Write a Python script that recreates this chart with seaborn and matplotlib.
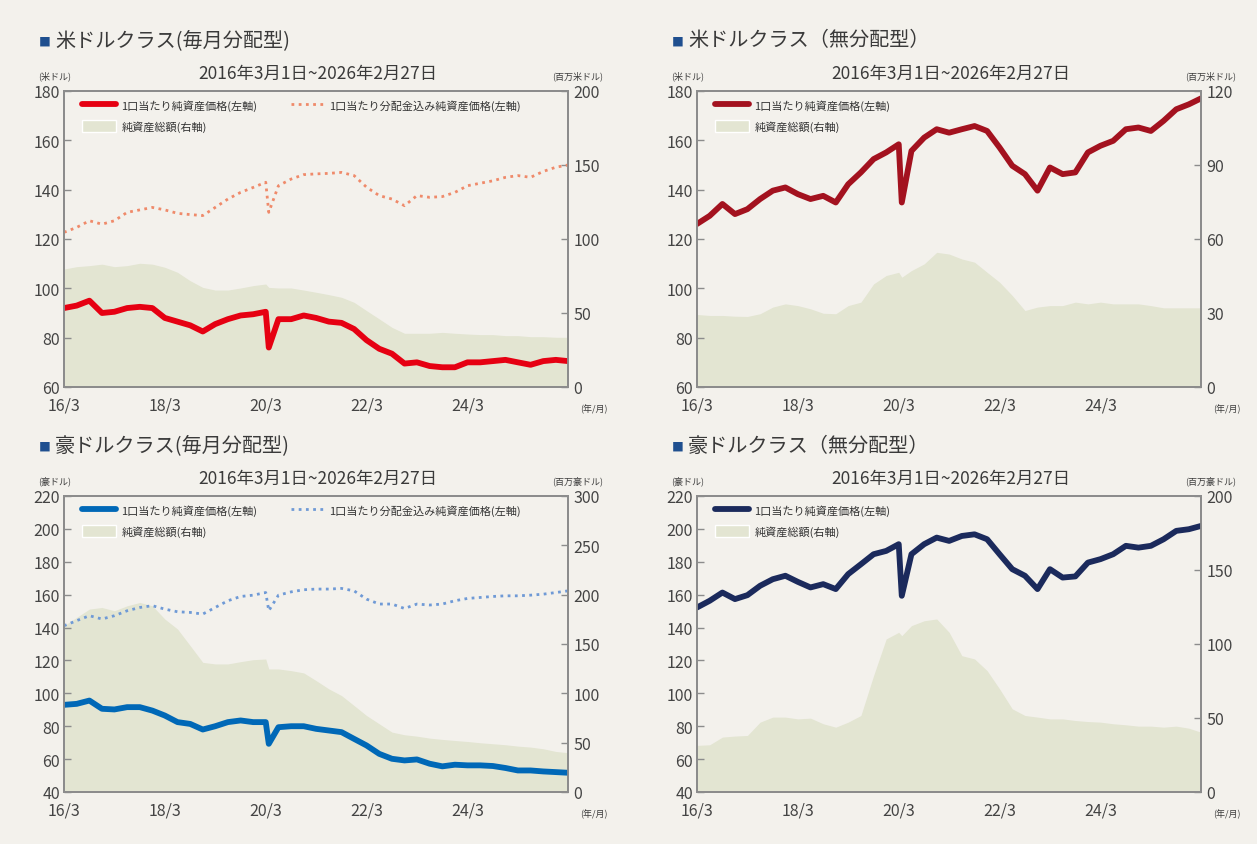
import pandas as pd
import numpy as np
import matplotlib
matplotlib.use("Agg")
import matplotlib.pyplot as plt
from matplotlib.patches import Patch
from matplotlib.lines import Line2D
import seaborn as sns

sns.set_theme(style="white")
plt.rcParams['font.family'] = ['Noto Sans CJK JP', 'DejaVu Sans']

# quarterly points, plus the March 2020 low and the last day
dates = list(pd.date_range("2016-03-01", "2025-12-01", freq="QS-MAR"))
dates.insert(17, pd.Timestamp("2020-03-23"))
dates.append(pd.Timestamp("2026-02-27"))

# 米ドルクラス(毎月分配型)
usd_m_nav = [92, 93, 95, 90, 90.5, 92, 92.5, 92, 88, 86.5, 85, 82.5, 85.5, 87.5, 89,
             89.5, 90.5, 76, 87.5, 87.5, 89, 88, 86.5, 86, 83.5, 79, 75.5, 73.5, 69.5,
             70, 68.5, 68, 68, 70, 70, 70.5, 71, 70, 69, 70.5, 71, 70.5]
usd_m_total = [122.7, 124.7, 127.4, 126, 127.4, 130.8, 131.8, 132.8, 131.8, 130.4, 129.9,
               129.5, 132.8, 136.2, 138.9, 140.9, 143, 130.8, 141.6, 144.3, 146.1, 146.4,
               146.6, 147, 145.7, 141, 137.6, 136.2, 133.5, 137.6, 136.9, 137.2, 138.9,
               141.6, 142.6, 143.6, 145, 145.7, 145, 147.4, 149.1, 150]
usd_m_aum = [79.7, 81.3, 82, 83, 81.3, 82, 83.6, 83, 80.9, 77.5, 71.8, 67.3, 65.5, 65.5,
             66.9, 68.5, 69.6, 67.3, 66.9, 66.9, 65.5, 64, 62.4, 60.6, 57.2, 51.6, 46,
             40.3, 36.3, 36.3, 36.3, 36.9, 36.3, 35.8, 35.4, 35.4, 34.7, 34.7, 34, 34,
             33.6, 33.6]

# 米ドルクラス(無分配型)
usd_a_nav = [126.1, 129.4, 134.2, 130.1, 132.1, 136.2, 139.6, 140.9, 138.2, 136.2, 137.5,
             134.8, 142.2, 147, 152.4, 155.1, 158.4, 134.8, 155.7, 161.1, 164.5, 163.1,
             164.5, 165.8, 163.8, 157.1, 149.7, 146.3, 139.6, 149, 146.3, 147, 155.1,
             157.8, 159.8, 164.5, 165.2, 163.8, 167.9, 172.6, 174.6, 177]
usd_a_aum = [29.4, 29, 29, 28.7, 28.6, 29.7, 32.4, 33.7, 33, 31.7, 29.9, 29.7, 33, 34.4,
             41.8, 45.2, 46.5, 44.5, 47.2, 49.9, 54.6, 53.9, 51.9, 50.6, 46.5, 42.5, 37.1,
             31, 32.4, 33, 33, 34.4, 33.7, 34.4, 33.7, 33.7, 33.7, 33, 32.1, 32.1, 32.1, 32.1]

# 豪ドルクラス(毎月分配型)
aud_m_nav = [93, 93.6, 95.6, 90.6, 90.2, 91.6, 91.6, 89.5, 86.5, 82.5, 81.4, 78, 80, 82.5,
             83.5, 82.5, 82.5, 69.3, 79.4, 80, 80, 78.4, 77.4, 76.4, 72.3, 68.3, 63.2,
             60.2, 59.2, 59.8, 57.2, 55.6, 56.6, 56.2, 56.2, 55.8, 54.6, 53.1, 53.1, 52.5,
             52.1, 51.7]
aud_m_total = [141.1, 144.2, 147.2, 145.2, 147.2, 150.2, 152.2, 153.3, 151.2, 149.6, 149.2,
               148.2, 152.2, 156.3, 158.9, 159.7, 161.3, 150.2, 159.7, 161.7, 163, 163.4,
               163.4, 163.8, 162.3, 157.3, 154.3, 154.3, 151.6, 154.3, 153.7, 154.3, 156.3,
               157.7, 158.3, 158.9, 159.3, 159.3, 159.7, 160.3, 161.3, 162.3]
aud_m_aum = [168.5, 177, 185.4, 187, 183.7, 188.7, 192.1, 188.7, 175.3, 165.2, 148.3, 131.4,
             129.8, 129.8, 132.1, 134.1, 134.8, 124.7, 124.7, 123, 120.7, 112.9, 104.5,
             97.7, 87.6, 77.5, 69.1, 60.7, 58, 56.6, 54.6, 53.3, 52.2, 51.2, 49.9, 48.9,
             47.9, 46.5, 45.5, 43.8, 41.1, 39.8]

# 豪ドルクラス(無分配型)
aud_a_nav = [152.2, 156.3, 161.3, 157.3, 159.7, 165.4, 169.4, 171.5, 167.8, 164.4, 166.4,
             163.4, 172.5, 178.5, 184.6, 186.6, 190.7, 159.3, 184.6, 190.7, 194.7, 192.7,
             195.7, 196.7, 193.7, 184.6, 175.5, 171.5, 163.4, 175.5, 170.4, 171.1, 179.5,
             181.6, 184.6, 189.7, 188.6, 189.7, 193.7, 198.8, 199.8, 201.8]
aud_a_aum = [31.5, 31.9, 37.1, 37.8, 38.2, 47.2, 50.6, 50.6, 49.4, 49.9, 46.1, 43.8, 47.2,
             51.7, 78.7, 103.4, 107.9, 105.6, 112.4, 115.7, 116.9, 107.9, 92.1, 89.9, 82,
             69.7, 56.2, 51.7, 50.6, 49.4, 49.4, 48.3, 47.6, 47.2, 46.1, 45.4, 44.5, 44.5,
             43.8, 44.5, 43.1, 40.4]

tick_dates = ["2016-03-01", "2018-03-01", "2020-03-01", "2022-03-01", "2024-03-01"]
tick_labels = ["16/3", "18/3", "20/3", "22/3", "24/3"]
period = "2016年3月1日~2026年2月27日"
lab_nav = "1口当たり純資産価格(左軸)"
lab_total = "1口当たり分配金込み純資産価格(左軸)"
lab_aum = "純資産総額(右軸)"

W, H = 1257, 845
AREA = "#e3e5d2"
SPINE = "#8c8c8c"
TXT = "#3a3a3a"
SQ = "#1f4f8f"

fig = plt.figure(figsize=(W / 100, H / 100), dpi=100, facecolor="#f3f1ec")


def px(x, y):
    return x / W, 1 - y / H


def panel(x0, y0, title, unit_l, unit_r, nav, nav_color, aum, ylim_l, yt_l, ylim_r, yt_r,
          total=None, total_color=None):
    w, h = 504, 296
    ax = fig.add_axes([x0 / W, 1 - (y0 + h) / H, w / W, h / H])
    ax2 = ax.twinx()
    ax.set_zorder(ax2.get_zorder() + 1)
    ax.patch.set_visible(False)
    ax2.patch.set_facecolor("white")

    ax2.fill_between(dates, aum, 0, color=AREA, lw=0)
    sns.lineplot(x=dates, y=nav, ax=ax, color=nav_color, lw=4.2)
    handles = [Line2D([], [], color=nav_color, lw=4.2), Patch(facecolor=AREA)]
    labels = [lab_nav, lab_aum]
    ncol = 1
    if total is not None:
        sns.lineplot(x=dates, y=total, ax=ax, color=total_color, lw=2, linestyle=(0, (1, 1.6)))
        handles.append(Line2D([], [], color=total_color, lw=2, linestyle=(0, (1, 1.6))))
        labels.append(lab_total)
        ncol = 2

    ax.set_xlim(dates[0], dates[-1])
    ax.set_ylim(*ylim_l)
    ax.set_yticks(yt_l)
    ax2.set_ylim(*ylim_r)
    ax2.set_yticks(yt_r)
    ax.set_xticks(pd.to_datetime(tick_dates))
    ax.set_xticklabels(tick_labels)
    ax.set_xlabel("")
    ax.set_ylabel("")
    for a in (ax, ax2):
        for s in a.spines.values():
            s.set_color(SPINE)
            s.set_linewidth(1.3)
        a.tick_params(direction="in", length=5, width=1, color=SPINE, labelsize=11.5,
                      labelcolor="#444444")
    ax.tick_params(axis="x", pad=7)
    ax.tick_params(axis="y", pad=3)
    ax2.tick_params(axis="y", pad=4)

    ax.legend(handles, labels, loc="upper left", bbox_to_anchor=(0.02, 1.0), frameon=False,
              fontsize=8, ncol=ncol, handlelength=3.0, handleheight=1.3, columnspacing=3.0,
              labelspacing=0.75, borderaxespad=0.35, handletextpad=0.5,
              labelcolor="#333333")

    # texts around the panel
    fig.text(*px(x0 - 25, y0 - 50), "■", color=SQ, fontsize=8.5, va="center")
    fig.text(*px(x0 - 9, y0 - 51), title, color=TXT, fontsize=14.5, va="center")
    fig.text(*px(x0 + w / 2 + 2, y0 - 18), period, color=TXT, fontsize=12.5,
             ha="center", va="center")
    fig.text(*px(x0 - 9, y0 - 16), unit_l, color=TXT, fontsize=6.5, ha="center", va="center")
    fig.text(*px(x0 + w + 10, y0 - 16), unit_r, color=TXT, fontsize=6.5, ha="center",
             va="center")
    fig.text(*px(x0 + w + 26, y0 + h + 21), "(年/月)", color=TXT, fontsize=6.5,
             ha="center", va="center")
    return ax


panel(64, 92, "米ドルクラス(毎月分配型)", "(米ドル)", "(百万米ドル)",
      usd_m_nav, "#e60012", usd_m_aum, (60, 180), range(60, 181, 20), (0, 200),
      range(0, 201, 50), total=usd_m_total, total_color="#ef8a6a")
panel(697, 92, "米ドルクラス（無分配型）", "(米ドル)", "(百万米ドル)",
      usd_a_nav, "#a3121f", usd_a_aum, (60, 180), range(60, 181, 20), (0, 120),
      range(0, 121, 30))
panel(64, 497, "豪ドルクラス(毎月分配型)", "(豪ドル)", "(百万豪ドル)",
      aud_m_nav, "#0068b7", aud_m_aum, (40, 220), range(40, 221, 20), (0, 300),
      range(0, 301, 50), total=aud_m_total, total_color="#6f9ad6")
panel(697, 497, "豪ドルクラス（無分配型）", "(豪ドル)", "(百万豪ドル)",
      aud_a_nav, "#1b2a5c", aud_a_aum, (40, 220), range(40, 221, 20), (0, 200),
      range(0, 201, 50))

fig.savefig("out.png", dpi=100, facecolor=fig.get_facecolor())
